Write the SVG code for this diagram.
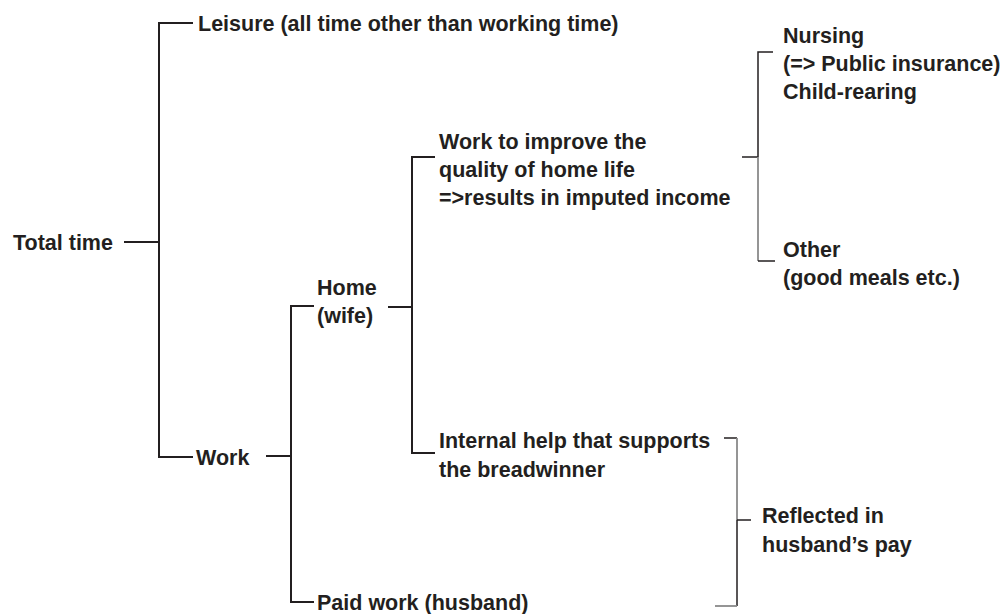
<svg xmlns="http://www.w3.org/2000/svg" width="1003" height="614" viewBox="0 0 1003 614">
<style>
.t{font-family:"Liberation Sans",Arial,sans-serif;font-weight:bold;font-size:21.5px;fill:#231f20}
.c{fill:none;stroke:#231f20;stroke-width:2}
.n{fill:none;stroke:#231f20;stroke-width:1.5}
.g{fill:none;stroke:#8a8a8a;stroke-width:1.8}
</style>
<rect width="1003" height="614" fill="#ffffff"/>
<g id="connectors">
<path class="c" d="M193,23 H159 V457 H193"/>
<path class="c" d="M124,242 H159"/>
<path class="c" d="M266,456 H291"/>
<path class="c" d="M314,306 H291 V602 H314"/>
<path class="c" d="M388,307 H412"/>
<path class="c" d="M435,157 H412 V453 H435"/>
<path class="n" d="M742,157 H758"/>
<path class="n" d="M773,52 H758 V157"/>
<path class="g" d="M758,157 V261"/>
<path class="n" d="M758,261 H775"/>
<path class="n" d="M724,438 H737"/>
<path class="g" d="M737,438 V520"/>
<path class="n" d="M737,520 H751 M737,520 V606"/>
<path class="g" d="M715,606 H737"/>
</g>
<g id="total"><text class="t" x="13" y="250">Total time</text></g>
<g id="leisure"><text class="t" x="198" y="31">Leisure (all time other than working time)</text></g>
<g id="work"><text class="t" x="196" y="465">Work</text></g>
<g id="home"><text class="t" x="317" y="295">Home</text><text class="t" x="317" y="323">(wife)</text></g>
<g id="paid"><text class="t" x="317" y="610">Paid work (husband)</text></g>
<g id="improve"><text class="t" x="439" y="149">Work to improve the</text><text class="t" x="439" y="177">quality of home life</text><text class="t" x="439" y="205">=&gt;results in imputed income</text></g>
<g id="internal"><text class="t" x="439" y="448">Internal help that supports</text><text class="t" x="439" y="477">the breadwinner</text></g>
<g id="nursing"><text class="t" x="783" y="43">Nursing</text><text class="t" x="783" y="71">(=&gt; Public insurance)</text><text class="t" x="783" y="99">Child-rearing</text></g>
<g id="other"><text class="t" x="783" y="257">Other</text><text class="t" x="783" y="285">(good meals etc.)</text></g>
<g id="reflected"><text class="t" x="762" y="523">Reflected in</text><text class="t" x="762" y="552">husband’s pay</text></g>
</svg>
